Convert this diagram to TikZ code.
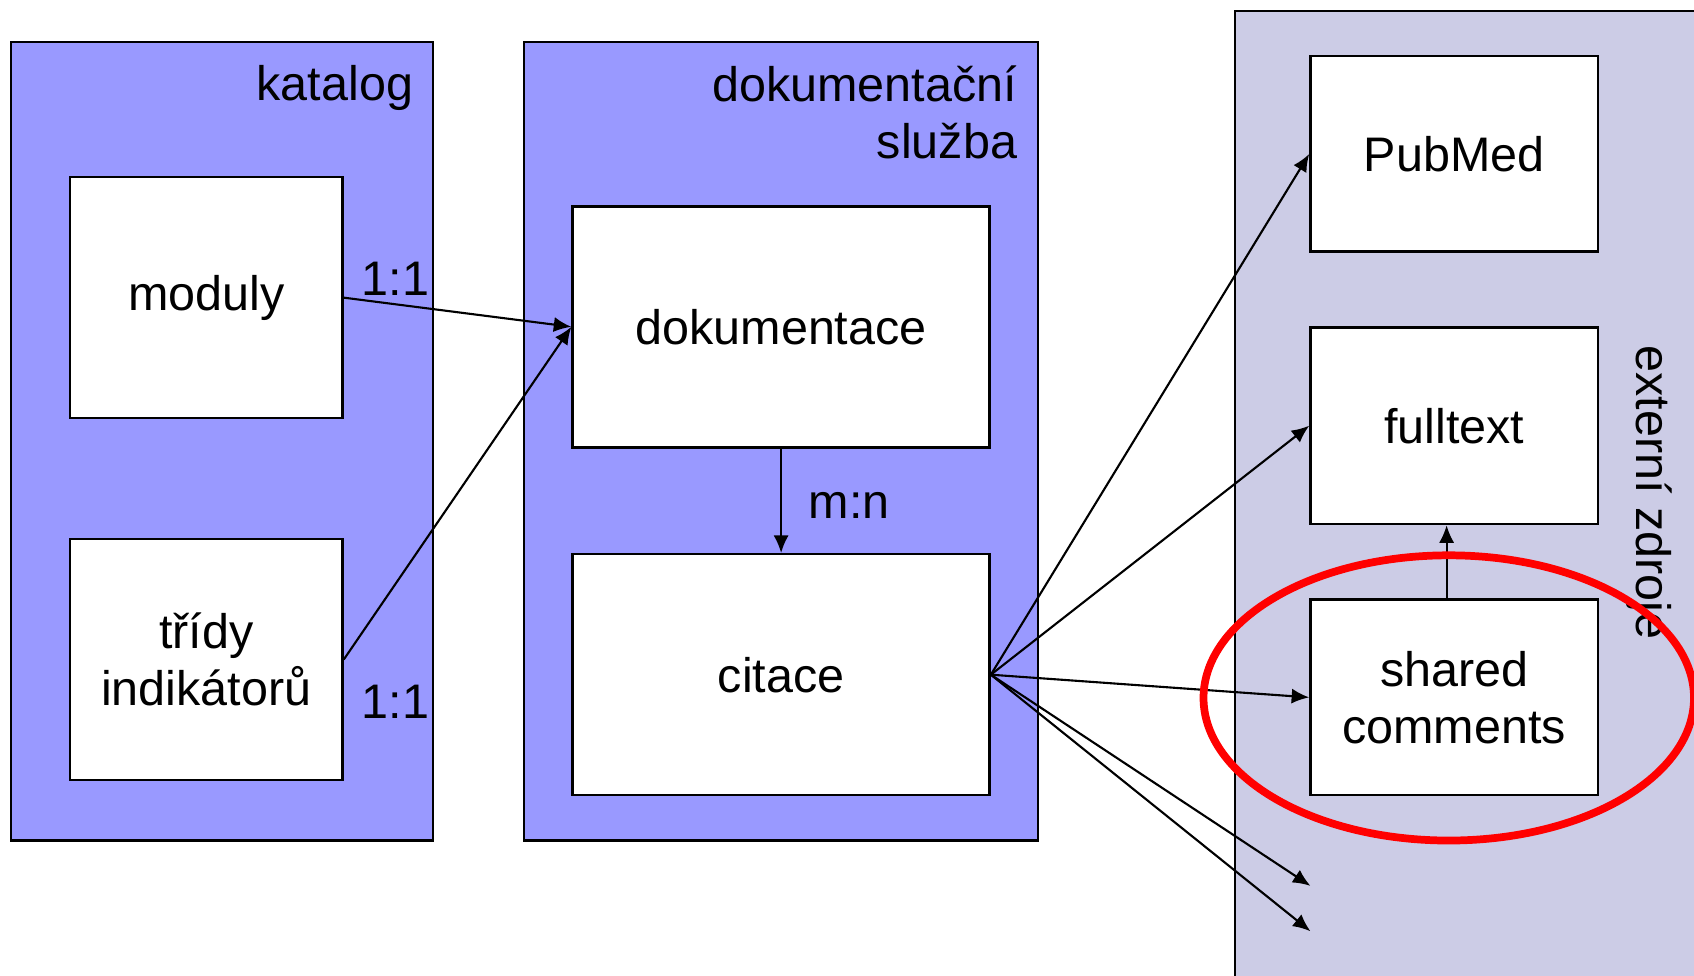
\documentclass[tikz,border=0pt]{standalone}
\usepackage{fontspec}
\setmainfont{Liberation Sans}
\usetikzlibrary{arrows.meta, positioning, calc}

\definecolor{framefill}{RGB}{153,153,255}
\definecolor{extfill}{RGB}{204,204,230}

\begin{document}
\begin{tikzpicture}[x=0.010804cm, y=-0.010804cm,
  font=\fontsize{13.8}{16.3}\selectfont,
  frame/.style={draw, line width=0.7pt},
  box/.style={draw, rectangle, fill=white, line width=0.7pt, align=center},
  link/.style={line width=0.6pt, -{Latex[length=5pt, width=4.3pt]}}]
\useasboundingbox (0,0) rectangle (1568,902.5);
\clip (0,0) rectangle (1568,902.5);

% Frames
\draw[frame, fill=framefill] (10,39) rectangle (401,778);
\draw[frame, fill=framefill] (485,39) rectangle (961,778);
\draw[frame, fill=extfill] (1143,10) rectangle (1600,950);
\node[anchor=base east, inner sep=0] (katalogtitle) at (383,93) {katalog};
\node[anchor=north east, inner sep=0, align=right] (sluzbatitle) at (942,60) {dokumentační\\služba};
\node[rotate=-90, inner sep=0] (zdrojetitle) at (1527,456) {externí zdroje};

% Katalog
\node[box, minimum width=2.723cm, minimum height=2.409cm] (moduly) at (191,275.5) {moduly};
\node[box, minimum width=2.723cm, minimum height=2.409cm] (tridy) at (191,610.5) {třídy\\indikátorů};

% Dokumentacni sluzba
\node[box, minimum width=4.170cm, minimum height=2.409cm] (dokumentace) at (723,302.5) {dokumentace};
\node[box, minimum width=4.170cm, minimum height=2.409cm] (citace) at (723,624.5) {citace};

% Externi zdroje
\node[box, minimum width=2.874cm, minimum height=1.955cm] (pubmed) at (1346,142.5) {PubMed};
\node[box, minimum width=2.874cm, minimum height=1.966cm] (fulltext) at (1346,394) {fulltext};
\node[box, minimum width=2.874cm, minimum height=1.955cm] (shared) at (1346,645.5) {shared\\comments};
\coordinate (more1) at (1213,820);
\coordinate (more2) at (1213,862);

% Links
\draw[link] (moduly.east) -- (dokumentace.west);
\draw[link] (tridy.east) -- (dokumentace.west);
\draw[link] (dokumentace.south) -- (citace.north);
\draw[link] (citace.east) -- (pubmed.west);
\draw[link] (citace.east) -- (fulltext.west);
\draw[link] (citace.east) -- (shared.west);
\draw[link] (citace.east) -- (more1);
\draw[link] (citace.east) -- (more2);
\draw[link] ($(shared.north)+(-7,0)$) -- ($(fulltext.south)+(-7,0)$);
\node (labelA) at (366,258) {1:1};
\node (labelB) at (366,650) {1:1};
\node (labelC) at (786,468) {m:n};

% Highlight
\draw[red, line width=2.2pt] (1341,646) ellipse [x radius=227, y radius=132];
\end{tikzpicture}
\end{document}
